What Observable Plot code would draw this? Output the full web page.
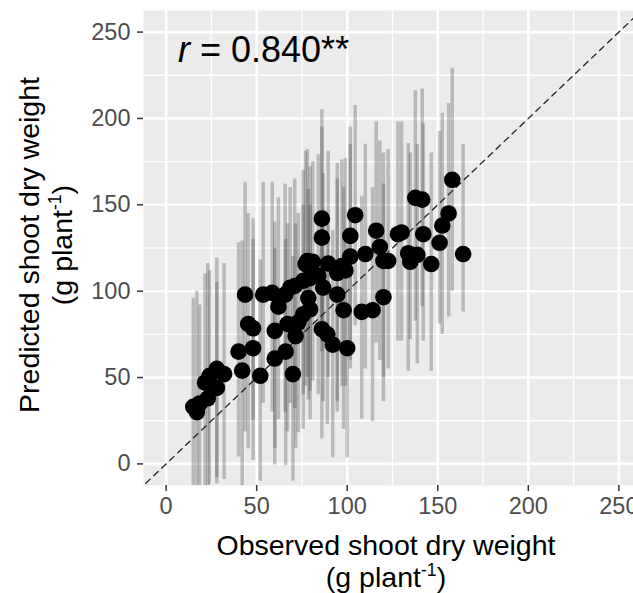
<!DOCTYPE html>
<html><head><meta charset="utf-8">
<script src="https://cdn.jsdelivr.net/npm/d3@7"></script>
<script src="https://cdn.jsdelivr.net/npm/@observablehq/plot@0.6"></script>
<style>
html,body{margin:0;padding:0;overflow:hidden;background:#fff;}
svg{max-width:none !important;}
</style></head><body><div id="chart"></div>
<script>
const observed = [15,17,18.5,21.5,23,24,28,28,32,40, 42,43.6,45.3,48,48,52,53.6,58.6,60,60, 62,65.7,66,67,68.5,70,71.5,71,75.7,75.7, 77,78,78.5,79.5,79.5,86,86,86.7,86,89, 89.5,92,94.5,94.5,97,98,100,101.7,101.7,104.4, 108,110,114,116,118,120,120,122.6,128,130, 133.7,134.8,137.6,138.7,141.4,142,146.4,151,152.5,156, 158,164,81,99,73,84];
const predicted = [33,30,35,47,38,51,55,44,52,65, 54,98,81,78.5,67,51,98,99,77,61, 91,98,65,81,102,52,74,103,106,86.6, 115.7,117.5,96,107.5,89.5,142,131,102,78,75, 116,69,110.5,98,114.5,89,67,132,120,144, 88,121.5,89,135,125.6,96.5,117.5,117.5,133,134, 122,117,154,121,153,133,115.7,128,138,145, 164.5,121.5,117,112,82,109];
const lower = [-15,-15,-15,-15,-15,-12,-11.6,-8,-9,4, -13,18.6,8.7,2,25,-10,35,30,9,-0.6, 25.6,30,-1,18.6,35,-10,9,32,40,20, 45,50,37,42,25.6,75,65,36,14.5,22.7, 50,3.5,36,30,45,20,3.5,60,55,80, 26,55,24.4,70,60,36,50,55,71,71, 53.5,72,82.6,58,91,71,53.5,81,75,85, 100,88,48,45,18,40];
const upper = [96,100,92,110,116,112,119,105,116,128, 129,163,145,142,130,118,163,163,140,125, 154,162,130,139,160,120,139,165,170,150, 181,182,159,172,150,205,195,168,145,140, 181,135,174,165,176,160,130,195,185,207.5, 155,185,160,198,187,162,180,182,198,198, 185.5,180,216,185,217,197,180,192.5,203,208.7, 229,185,175,177,145,179];
const xTicks = [0,50,100,150,200,250];
const yTicks = [0,50,100,150,200,250];
const minorTicks = [25,75,125,175,225];
const refLine = [-20, 280];
const xTitle = "Observed shoot dry weight";
const yTitle = "Predicted shoot dry weight";
const unitText = ["(g plant", "-1", ")"];
const rValue = " = 0.840**";

const data = observed.map((x, i) => ({x, y: predicted[i], lo: lower[i], hi: upper[i]}));

const plot = Plot.plot({
  width: 641, height: 593,
  marginLeft: 143, marginRight: 0, marginTop: 10, marginBottom: 108,
  x: {domain: [-12.5, 262.5]},
  y: {domain: [-12.5, 262.5]},
  style: {fontFamily: "'Liberation Sans', Arial, sans-serif", background: "white", maxWidth: "none"},
  marks: [
    Plot.frame({fill: "#EBEBEB", stroke: null}),
    Plot.gridX(minorTicks, {stroke: "white", strokeOpacity: 1, strokeWidth: 1.3}),
    Plot.gridY(minorTicks, {stroke: "white", strokeOpacity: 1, strokeWidth: 1.3}),
    Plot.gridX(xTicks, {stroke: "white", strokeOpacity: 1, strokeWidth: 2.6}),
    Plot.gridY(yTicks, {stroke: "white", strokeOpacity: 1, strokeWidth: 2.6}),
    Plot.ruleX(data, {x: "x", y1: "lo", y2: "hi", stroke: "#444", strokeOpacity: 0.3, strokeWidth: 3.5, clip: true}),
    Plot.line(refLine, {x: d => d, y: d => d, stroke: "#222", strokeDasharray: "6,5", strokeWidth: 1.3, clip: true}),
    Plot.dot(data, {x: "x", y: "y", r: 8.3, fill: "black", stroke: null}),
    Plot.axisX(xTicks, {tickSize: 6, tickPadding: 6, fontSize: 23.5, stroke: "#333", fill: "#4d4d4d", label: null, strokeWidth: 1.5}),
    Plot.axisY(yTicks, {tickSize: 6, tickPadding: 7, fontSize: 23.5, stroke: "#333", fill: "#4d4d4d", label: null, strokeWidth: 1.5})
  ]
});
document.getElementById("chart").appendChild(plot);

const svg = d3.select(plot);
svg.style("max-width", "none");
const ff = "'Liberation Sans', Arial, sans-serif";
function unit(sel, size) {
  sel.append("tspan").text(unitText[0]);
  sel.append("tspan").attr("font-size", size * 0.62).attr("dy", -size * 0.38).text(unitText[1]);
  sel.append("tspan").attr("dy", size * 0.38).text(unitText[2]);
}
const ts = 28.5;
svg.append("text").attr("x", 386).attr("y", 555).attr("text-anchor", "middle")
  .attr("font-family", ff).attr("font-size", ts).attr("fill", "black").text(xTitle);
unit(svg.append("text").attr("x", 386).attr("y", 587).attr("text-anchor", "middle")
  .attr("font-family", ff).attr("font-size", ts).attr("fill", "black"), ts);
svg.append("text").attr("transform", "translate(39,245) rotate(-90)").attr("text-anchor", "middle")
  .attr("font-family", ff).attr("font-size", ts).attr("fill", "black").text(yTitle);
unit(svg.append("text").attr("transform", "translate(72,245) rotate(-90)").attr("text-anchor", "middle")
  .attr("font-family", ff).attr("font-size", ts).attr("fill", "black"), ts);
const rt = svg.append("text").attr("x", 178).attr("y", 62).attr("text-anchor", "start")
  .attr("font-family", ff).attr("font-size", 36).attr("fill", "black");
rt.append("tspan").attr("font-style", "italic").text("r");
rt.append("tspan").text(rValue);
</script></body></html>
